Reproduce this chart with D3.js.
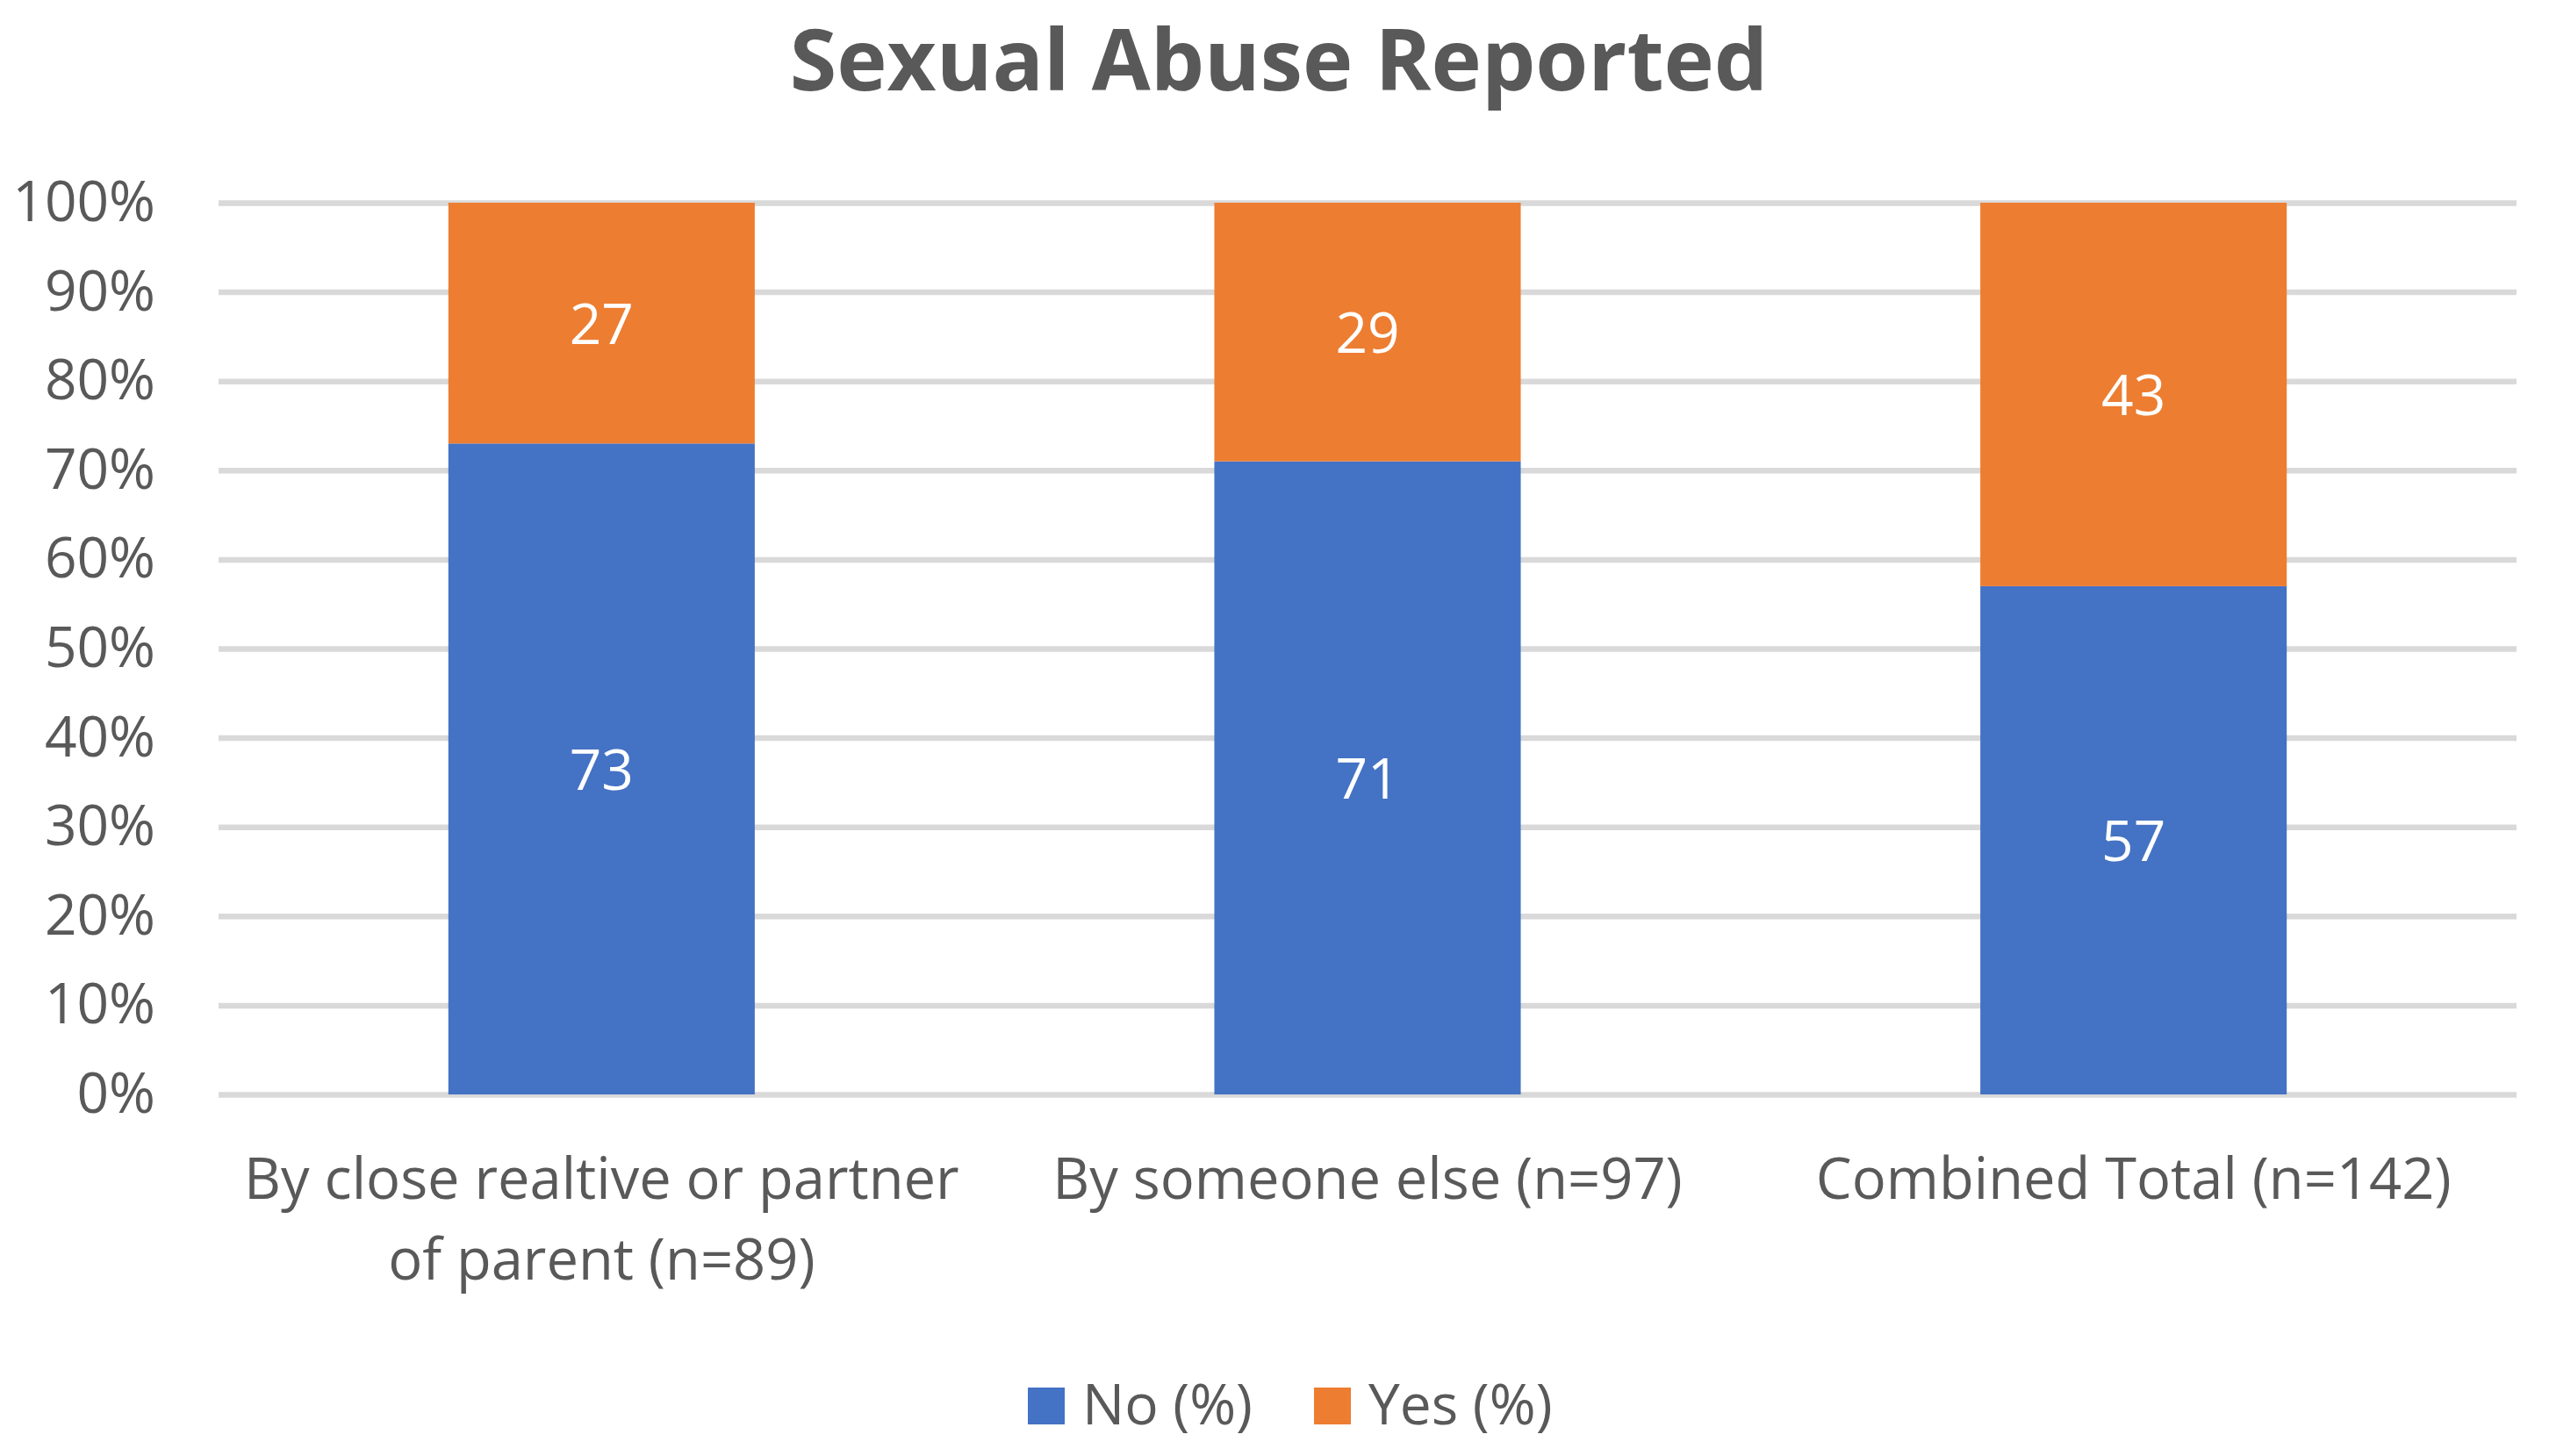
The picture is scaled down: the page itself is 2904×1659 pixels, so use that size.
<!DOCTYPE html>
<html>
<head>
<meta charset="utf-8">
<script src="https://cdn.jsdelivr.net/npm/d3@7"></script>
<style>
  body { margin: 0; background: #fff; }
  text { font-family: "Open Sans", Lato, sans-serif; }
</style>
</head>
<body>
<div id="chart"></div>
<script>
// chart data
const categories = ["close", "else", "total"];
const categoryLabels = [
  ["By close realtive or partner", "of parent (n=89)"],
  ["By someone else (n=97)"],
  ["Combined Total (n=142)"]
];
const seriesNames = ["No (%)", "Yes (%)"];
const noValues = [73, 71, 57];
const yesValues = [27, 29, 43];
const yTicks = [0, 10, 20, 30, 40, 50, 60, 70, 80, 90, 100];

const width = 2904;
const height = 1659;
const margin = { top: 231, right: 37, bottom: 412, left: 249 };
const innerW = width - margin.left - margin.right;
const innerH = height - margin.top - margin.bottom;

const colors = ["#4472C4", "#ED7D31"];
const textColor = "#595959";
const fontFamily = "'Open Sans', Lato, sans-serif";
const labelSize = 64;

const svg = d3.select("#chart").append("svg")
    .attr("width", width)
    .attr("height", height);

// title
svg.append("text")
    .attr("x", width / 2 + 5)
    .attr("y", 103)
    .attr("text-anchor", "middle")
    .attr("font-size", 97)
    .attr("font-weight", "bold")
    .attr("fill", textColor)
    .text("Sexual Abuse Reported");

const g = svg.append("g")
    .attr("transform", `translate(${margin.left},${margin.top})`);

const x = d3.scaleBand()
    .domain(categories)
    .range([0, innerW])
    .paddingInner(0.6)
    .paddingOuter(0.3);

const y = d3.scaleLinear()
    .domain([0, 100])
    .range([innerH, 0]);

// y axis + gridlines
const yAxis = g.append("g")
    .call(d3.axisLeft(y)
        .tickValues(yTicks)
        .tickSize(-innerW)
        .tickPadding(72)
        .tickFormat(d => d + "%"));
yAxis.select(".domain").remove();
yAxis.selectAll(".tick line")
    .attr("stroke", "#D9D9D9")
    .attr("stroke-width", 6.5);
yAxis.selectAll(".tick text")
    .attr("font-size", labelSize)
    .attr("fill", textColor)
    .attr("font-family", fontFamily);

// stacked bars
const rows = categories.map((c, i) => ({ cat: c, no: noValues[i], yes: yesValues[i] }));
const stacked = d3.stack().keys(["no", "yes"])(rows);

const layer = g.selectAll(".layer")
    .data(stacked)
    .enter().append("g")
    .attr("class", "layer")
    .attr("fill", (d, i) => colors[i]);

layer.selectAll("rect")
    .data(d => d)
    .enter().append("rect")
    .attr("x", d => x(d.data.cat))
    .attr("y", d => y(d[1]))
    .attr("width", x.bandwidth())
    .attr("height", d => y(d[0]) - y(d[1]));

// value labels
layer.selectAll(".val")
    .data(d => d)
    .enter().append("text")
    .attr("class", "val")
    .attr("x", d => x(d.data.cat) + x.bandwidth() / 2)
    .attr("y", d => (y(d[0]) + y(d[1])) / 2)
    .attr("dy", "0.37em")
    .attr("text-anchor", "middle")
    .attr("font-size", labelSize)
    .attr("fill", "#fff")
    .text(d => d[1] - d[0]);

// category labels
const xAxis = g.append("g")
    .attr("transform", `translate(0,${innerH})`)
    .call(d3.axisBottom(x).tickSize(0).tickFormat(""));
xAxis.select(".domain").remove();
xAxis.selectAll(".tick").each(function(d, i) {
    const t = d3.select(this).append("text")
        .attr("text-anchor", "middle")
        .attr("font-size", labelSize + 1)
        .attr("fill", textColor)
        .attr("y", 119);
    categoryLabels[i].forEach((line, j) => {
        t.append("tspan").attr("x", 0).attr("dy", j === 0 ? 0 : 92).text(line);
    });
});

// legend
const legend = svg.append("g")
    .attr("transform", "translate(1171,1623)");
const legendX = [0, 326];
seriesNames.forEach((name, i) => {
    const item = legend.append("g").attr("transform", `translate(${legendX[i]},0)`);
    item.append("rect")
        .attr("x", 0)
        .attr("y", -42)
        .attr("width", 42)
        .attr("height", 42)
        .attr("fill", colors[i]);
    item.append("text")
        .attr("x", 62)
        .attr("y", 0)
        .attr("font-size", labelSize)
        .attr("fill", textColor)
        .text(name);
});
</script>
</body>
</html>
